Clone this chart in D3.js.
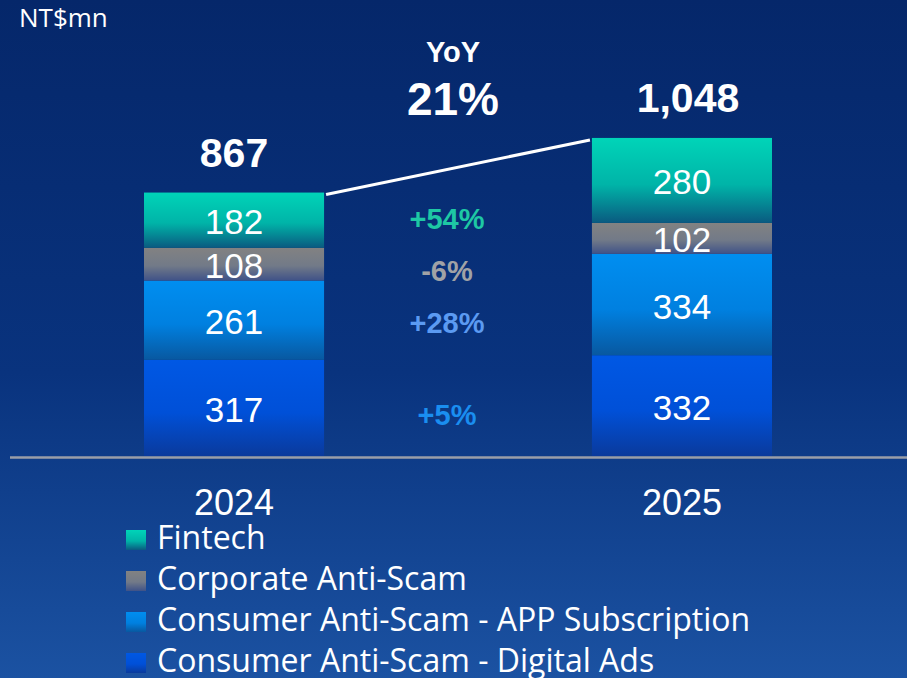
<!DOCTYPE html>
<html>
<head>
<meta charset="utf-8">
<script src="https://cdn.jsdelivr.net/npm/d3@7"></script>
<style>
  html, body { margin: 0; padding: 0; background: #06296e; overflow: hidden; }
  #container { width: 907px; height: 678px; }
</style>
</head>
<body>
<div id="container"></div>
<script>
const years = ["2024", "2025"];
const segments = ["Digital Ads", "APP Subscription", "Corporate Anti-Scam", "Fintech"];
const digitalAds = [317, 332];
const appSubscription = [261, 334];
const corporate = [108, 102];
const fintech = [182, 280];
const totals = ["867", "1,048"];
const growth = ["+5%", "+28%", "-6%", "+54%"];
const legendLabels = ["Fintech", "Corporate Anti-Scam", "Consumer Anti-Scam - APP Subscription", "Consumer Anti-Scam - Digital Ads"];

function StackChart({
    width = 907,
    height = 678,
    baseline = 456,
    pxPerUnit = 0.3035
  } = {}) {

    const svg = d3.select("#container").append("svg")
        .attr("width", width)
        .attr("height", height);

    const defs = svg.append("defs");

    const bg = defs.append("linearGradient").attr("id", "bg")
        .attr("x1", 0).attr("y1", 0).attr("x2", 0).attr("y2", 1);
    bg.append("stop").attr("offset", "0%").attr("stop-color", "#05276a");
    bg.append("stop").attr("offset", "55%").attr("stop-color", "#09337e");
    bg.append("stop").attr("offset", "100%").attr("stop-color", "#1b52a2");

    svg.append("rect").attr("width", width).attr("height", height).attr("fill", "url(#bg)");

    // segment gradients: light on top, darker at the bottom
    const grads = [
      { id: "g0", top: "#0058e4", mid: "#0050d8", bottom: "#0a3a9c" },
      { id: "g1", top: "#008ef0", mid: "#0080e0", bottom: "#0858a0" },
      { id: "g2", top: "#828282", mid: "#727a88", bottom: "#3f5288" },
      { id: "g3", top: "#00d4b8", mid: "#00b4a8", bottom: "#0a5a80" }
    ];
    grads.forEach(g => {
      const lg = defs.append("linearGradient").attr("id", g.id)
          .attr("x1", 0).attr("y1", 0).attr("x2", 0).attr("y2", 1);
      lg.append("stop").attr("offset", "0%").attr("stop-color", g.top);
      lg.append("stop").attr("offset", "55%").attr("stop-color", g.mid);
      lg.append("stop").attr("offset", "100%").attr("stop-color", g.bottom);
    });

    const x = d3.scaleBand()
        .domain(years)
        .range([144, 772])
        .paddingInner(0.598)
        .paddingOuter(0);

    const y = d3.scaleLinear()
        .domain([0, 1])
        .range([baseline, baseline - pxPerUnit]);

    const table = years.map((yr, i) => ({
      year: yr,
      "Digital Ads": digitalAds[i],
      "APP Subscription": appSubscription[i],
      "Corporate Anti-Scam": corporate[i],
      "Fintech": fintech[i]
    }));

    const series = d3.stack().keys(segments)(table);

    const layer = svg.append("g").selectAll("g")
        .data(series)
        .enter().append("g")
        .attr("fill", (d, i) => "url(#g" + i + ")");

    layer.selectAll("rect")
        .data(d => d)
        .enter().append("rect")
        .attr("x", d => x(d.data.year))
        .attr("width", x.bandwidth())
        .attr("y", d => y(d[1]))
        .attr("height", d => y(d[0]) - y(d[1]));

    layer.selectAll("text")
        .data(d => d.map(v => ({ v, key: d.key })))
        .enter().append("text")
        .attr("x", d => x(d.v.data.year) + x.bandwidth() / 2)
        .attr("y", d => (y(d.v[0]) + y(d.v[1])) / 2 + 14)
        .attr("text-anchor", "middle")
        .attr("font-family", "Liberation Sans, Arial, sans-serif")
        .attr("font-size", 35)
        .attr("fill", "#ffffff")
        .text(d => d.v.data[d.key]);

    // axis baseline
    svg.append("line")
        .attr("x1", 10).attr("x2", 907)
        .attr("y1", baseline + 1.5).attr("y2", baseline + 1.5)
        .attr("stroke", "#9a9ea8")
        .attr("stroke-width", 2.5);

    // year labels
    svg.append("g").selectAll("text")
        .data(years)
        .enter().append("text")
        .attr("x", d => x(d) + x.bandwidth() / 2)
        .attr("y", 515)
        .attr("text-anchor", "middle")
        .attr("font-family", "Liberation Sans, Arial, sans-serif")
        .attr("font-size", 36)
        .attr("fill", "#ffffff")
        .text(d => d);

    // totals
    const totalVals = table.map(d => segments.reduce((s, k) => s + d[k], 0));
    svg.append("g").selectAll("text")
        .data(years)
        .enter().append("text")
        .attr("x", (d, i) => x(d) + x.bandwidth() / 2 + (i === 1 ? 6 : 0))
        .attr("y", (d, i) => y(totalVals[i]) - 26)
        .attr("text-anchor", "middle")
        .attr("font-family", "Liberation Sans, Arial, sans-serif")
        .attr("font-weight", "bold")
        .attr("font-size", 41)
        .attr("fill", "#ffffff")
        .text((d, i) => totals[i]);

    // connector between bar tops
    svg.append("line")
        .attr("x1", x(years[0]) + x.bandwidth() + 2)
        .attr("y1", y(totalVals[0]) + 2)
        .attr("x2", x(years[1]) - 2)
        .attr("y2", y(totalVals[1]) + 2)
        .attr("stroke", "#ffffff")
        .attr("stroke-width", 3);

    // YoY
    svg.append("text")
        .attr("x", 453).attr("y", 62)
        .attr("text-anchor", "middle")
        .attr("font-family", "Liberation Sans, Arial, sans-serif")
        .attr("font-weight", "bold")
        .attr("font-size", 29)
        .attr("fill", "#ffffff")
        .text("YoY");
    svg.append("text")
        .attr("x", 453).attr("y", 115)
        .attr("text-anchor", "middle")
        .attr("font-family", "Liberation Sans, Arial, sans-serif")
        .attr("font-weight", "bold")
        .attr("font-size", 46)
        .attr("fill", "#ffffff")
        .text("21%");

    // growth rates per segment
    const growthColors = ["#1a8ef0", "#5b9af2", "#a0a2a6", "#1ec8a4"];
    const growthY = [425, 333, 281, 229];
    svg.append("g").selectAll("text")
        .data(growth)
        .enter().append("text")
        .attr("x", 447)
        .attr("y", (d, i) => growthY[i])
        .attr("text-anchor", "middle")
        .attr("font-family", "Liberation Sans, Arial, sans-serif")
        .attr("font-weight", "bold")
        .attr("font-size", 29)
        .attr("fill", (d, i) => growthColors[i])
        .text(d => d);

    // unit label
    svg.append("text")
        .attr("x", 19).attr("y", 27)
        .attr("font-family", "Open Sans, sans-serif")
        .attr("font-size", 26)
        .attr("fill", "#ffffff")
        .text("NT$mn");

    // legend
    const legend = svg.append("g").selectAll("g")
        .data(legendLabels)
        .enter().append("g")
        .attr("transform", (d, i) => "translate(126," + (549 + i * 41) + ")");

    legend.append("rect")
        .attr("x", 0).attr("y", -19)
        .attr("width", 20).attr("height", 20)
        .attr("fill", (d, i) => "url(#g" + (3 - i) + ")");

    legend.append("text")
        .attr("x", 31).attr("y", 0)
        .attr("font-family", "Open Sans, sans-serif")
        .attr("font-size", 32)
        .attr("fill", "#ffffff")
        .text(d => d);
}

StackChart();
</script>
</body>
</html>
